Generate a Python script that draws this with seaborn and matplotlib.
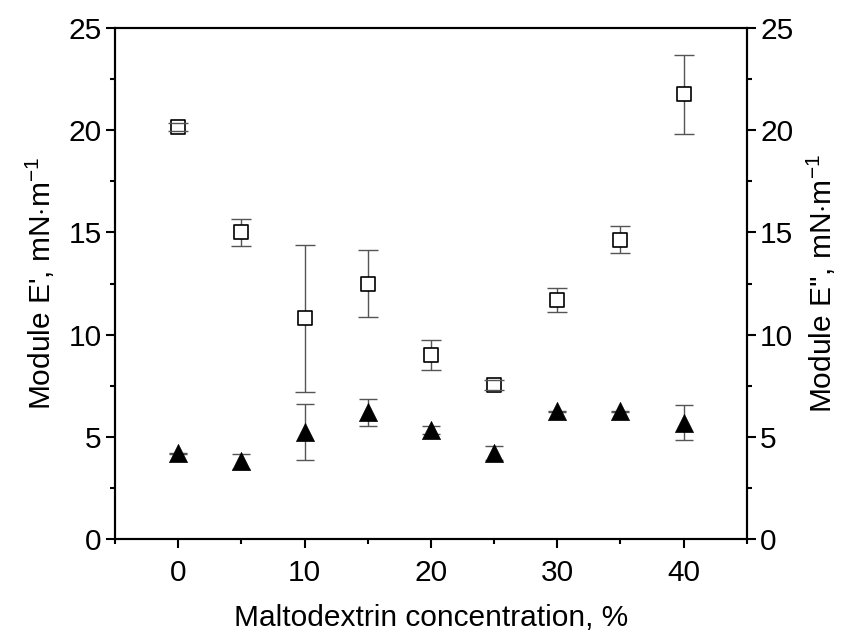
import numpy as np
import pandas as pd
import matplotlib
matplotlib.use("Agg")
import matplotlib.pyplot as plt
from matplotlib.ticker import MultipleLocator
import seaborn as sns

# Values
concentration = [0, 5, 10, 15, 20, 25, 30, 35, 40]
e_storage = [20.15, 15.0, 10.8, 12.5, 9.0, 7.55, 11.7, 14.65, 21.75]
e_storage_err = [0.2, 0.65, 3.6, 1.65, 0.72, 0.25, 0.6, 0.66, 1.93]
e_loss = [4.2, 3.8, 5.25, 6.2, 5.35, 4.2, 6.25, 6.25, 5.7]
e_loss_err = [0.02, 0.35, 1.37, 0.65, 0.2, 0.35, 0.02, 0.02, 0.87]

df = pd.DataFrame({'conc': concentration,
                   'E1': e_storage, 'E1err': e_storage_err,
                   'E2': e_loss, 'E2err': e_loss_err})

sns.set_theme(style='ticks')
plt.rcParams['font.family'] = ['Liberation Sans', 'DejaVu Sans']
plt.rcParams['mathtext.fontset'] = 'custom'
plt.rcParams['mathtext.rm'] = 'Liberation Sans'
plt.rcParams['mathtext.it'] = 'Liberation Sans:italic'
plt.rcParams['mathtext.bf'] = 'Liberation Sans:bold'
plt.rcParams['text.color'] = 'black'
plt.rcParams['axes.labelcolor'] = 'black'
plt.rcParams['xtick.color'] = 'black'
plt.rcParams['ytick.color'] = 'black'

fs = 21.5
fig = plt.figure(figsize=(8.41, 6.35), dpi=100)
ax = fig.add_axes([0.1367, 0.151, 0.7513, 0.805])
ax2 = ax.twinx()

err_col = '#555555'

# E' (open squares, left axis)
eb = ax.errorbar(df['conc'], df['E1'], yerr=df['E1err'], fmt='none',
                 ecolor=err_col, elinewidth=1.0, capsize=7, capthick=1.0, zorder=1)
for cap in eb[1]:
    cap.set_zorder(3)
sns.scatterplot(data=df, x='conc', y='E1', marker='s', s=95, color='white',
                edgecolor='black', linewidth=1.2, ax=ax, zorder=2, legend=False)

# E'' (filled triangles, right axis)
ax2.errorbar(df['conc'], df['E2'], yerr=df['E2err'], fmt='none',
             ecolor=err_col, elinewidth=1.0, capsize=6.5, capthick=1.0, zorder=1)
sns.scatterplot(data=df, x='conc', y='E2', marker='^', s=170, color='black',
                edgecolor='black', linewidth=0.5, ax=ax2, zorder=2, legend=False)

for a in (ax, ax2):
    a.set_xlim(-5, 45)
    a.set_ylim(0, 25)
    for sp in a.spines.values():
        sp.set_visible(True)
        sp.set_linewidth(1.5)
        sp.set_color('black')

ax.xaxis.set_major_locator(MultipleLocator(10))
ax.xaxis.set_minor_locator(MultipleLocator(5))
ax.yaxis.set_major_locator(MultipleLocator(5))
ax.yaxis.set_minor_locator(MultipleLocator(2.5))
ax2.yaxis.set_major_locator(MultipleLocator(5))
ax2.yaxis.set_minor_locator(MultipleLocator(2.5))

ax.tick_params(axis='x', which='both', direction='out', bottom=True, top=False,
               labelsize=fs, width=1.5, colors='black', pad=8)
ax.tick_params(axis='x', which='major', length=6.5)
ax.tick_params(axis='x', which='minor', length=3.5)
ax.tick_params(axis='y', which='both', direction='out', left=True, right=False,
               labelsize=fs, width=1.5, colors='black', pad=3)
ax.tick_params(axis='y', which='major', length=6.5)
ax.tick_params(axis='y', which='minor', length=3.5)

ax2.tick_params(axis='y', which='both', direction='out', right=True, left=False,
                labelsize=fs, width=1.5, colors='black', pad=3)
ax2.tick_params(axis='y', which='major', length=6.5)
ax2.tick_params(axis='y', which='minor', length=3.5)
ax2.tick_params(axis='x', which='both', direction='in', top=True, bottom=False,
                labeltop=False, labelbottom=False, width=1.5)
ax2.tick_params(axis='x', which='major', length=6.5)
ax2.tick_params(axis='x', which='minor', length=3.5)
ax2.xaxis.set_major_locator(MultipleLocator(10))
ax2.xaxis.set_minor_locator(MultipleLocator(5))

ax.set_xlabel('Maltodextrin concentration, %', fontsize=fs, labelpad=12, color='black')
ax.set_ylabel("Module E', mN$\\cdot$m$^{-1}$", fontsize=fs, labelpad=8, color='black')
ax2.set_ylabel("Module E'', mN$\\cdot$m$^{-1}$", fontsize=fs, labelpad=8,
               rotation=90, color='black')

fig.savefig('out.png', dpi=100)
